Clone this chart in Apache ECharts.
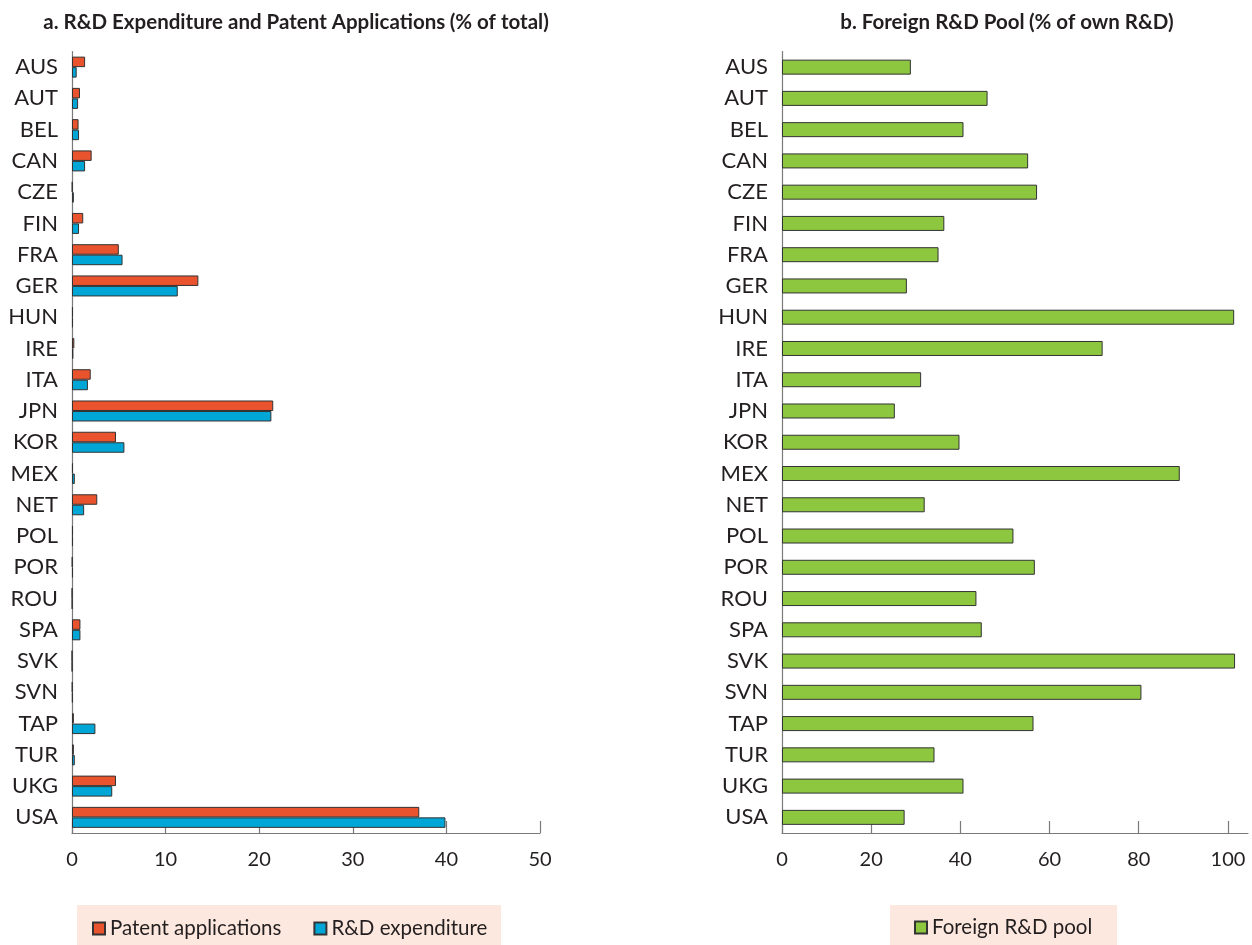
<!DOCTYPE html>
<html>
<head>
<meta charset="utf-8">
<script src="https://cdn.jsdelivr.net/npm/echarts@6/dist/echarts.min.js"></script>
<style>
html,body{margin:0;padding:0;background:#fff;}
#chart{width:1252px;height:945px;}
</style>
</head>
<body>
<div id="chart"></div>
<script>
const countries = ['AUS','AUT','BEL','CAN','CZE','FIN','FRA','GER','HUN','IRE','ITA','JPN','KOR','MEX','NET','POL','POR','ROU','SPA','SVK','SVN','TAP','TUR','UKG','USA'];
const patentApplications = [1.4,0.85,0.7,2.1,0.05,1.2,5.0,13.5,0.1,0.25,2.0,21.5,4.7,0.1,2.7,0.1,0.05,0.02,0.9,0.01,0.05,0.2,0.2,4.7,37.1];
const rdExpenditure = [0.5,0.65,0.75,1.4,0.2,0.75,5.4,11.3,0.1,0.15,1.7,21.3,5.6,0.3,1.3,0.1,0.1,0.03,0.9,0.02,0.08,2.5,0.3,4.3,39.9];
const foreignRDPool = [28.9,46.1,40.7,55.2,57.2,36.4,35.1,28.0,101.4,71.9,31.2,25.3,39.8,89.2,32.0,51.9,56.7,43.6,44.8,101.6,80.6,56.4,34.2,40.7,27.5];
const leftTicks = [0,10,20,30,40,50];
const rightTicks = [0,20,40,60,80,100];

const FONT = 'Lato';
const TXT = '#231F20';
const AX = '#7a7a7a';
const BORDER = '#333333';

const chart = echarts.init(document.getElementById('chart'));
chart.setOption({
  animation: false,
  textStyle: {fontFamily: FONT, color: TXT},
  title: [
    {
      text: '{b|a. R&D Expenditure and Patent Applications} {n|(% of total)}',
      left: 291, top: 7, textAlign: 'center',
      textStyle: {rich: {
        b: {fontFamily: FONT, fontWeight: 'bold', fontSize: 20.5, color: TXT},
        n: {fontFamily: FONT, fontSize: 20.5, color: TXT}
      }}
    },
    {
      text: '{b|b. Foreign R&D Pool} {n|(% of own R&D)}',
      left: 1002, top: 7, textAlign: 'center',
      textStyle: {rich: {
        b: {fontFamily: FONT, fontWeight: 'bold', fontSize: 20.5, color: TXT},
        n: {fontFamily: FONT, fontSize: 20.5, color: TXT}
      }}
    }
  ],
  graphic: [
    {type: 'rect', left: 77, top: 905, shape: {width: 424, height: 40}, style: {fill: '#FCE8DE'}, z: -1},
    {type: 'rect', left: 890, top: 905, shape: {width: 227, height: 40}, style: {fill: '#FCE8DE'}, z: -1}
  ],
  legend: [
    {
      data: ['Patent applications', 'R&D expenditure'],
      icon: 'rect',
      left: 92, top: 918, itemWidth: 12, itemHeight: 12, itemGap: 32, padding: 0,
      textStyle: {fontFamily: FONT, fontSize: 20.5, color: TXT}
    },
    {
      data: ['Foreign R&D pool'],
      icon: 'rect',
      left: 914, top: 917, itemWidth: 12, itemHeight: 12, padding: 0,
      textStyle: {fontFamily: FONT, fontSize: 20.5, color: TXT}
    }
  ],
  grid: [
    {left: 72, top: 51.5, width: 468, height: 781.5},
    {left: 782, top: 51.5, width: 466, height: 781.5}
  ],
  xAxis: [
    {
      gridIndex: 0, type: 'value', min: 0, max: 50, interval: 10,
      axisLine: {show: true, lineStyle: {color: AX, width: 1.2}},
      axisTick: {show: true, inside: true, length: 12, lineStyle: {color: AX, width: 1.2}},
      splitLine: {show: false},
      axisLabel: {fontSize: 20, color: TXT, margin: 17, customValues: leftTicks}
    },
    {
      gridIndex: 1, type: 'value', min: 0, max: 104.5, interval: 20,
      axisLine: {show: true, lineStyle: {color: AX, width: 1.2}},
      axisTick: {show: true, inside: true, length: 12, lineStyle: {color: AX, width: 1.2}, customValues: rightTicks},
      splitLine: {show: false},
      axisLabel: {fontSize: 20, color: TXT, margin: 17, customValues: rightTicks}
    }
  ],
  yAxis: [
    {
      gridIndex: 0, type: 'category', data: countries, inverse: true,
      axisLine: {show: true, lineStyle: {color: AX, width: 1.2}},
      axisTick: {show: false},
      axisLabel: {fontSize: 22, color: TXT, margin: 14}
    },
    {
      gridIndex: 1, type: 'category', data: countries, inverse: true,
      axisLine: {show: true, lineStyle: {color: AX, width: 1.2}},
      axisTick: {show: false},
      axisLabel: {fontSize: 22, color: TXT, margin: 14}
    }
  ],
  series: [
    {
      name: 'Patent applications', type: 'bar', xAxisIndex: 0, yAxisIndex: 0,
      data: patentApplications, barWidth: 10.5, barGap: '0%',
      itemStyle: {color: '#E9532E', borderColor: BORDER, borderWidth: 1}
    },
    {
      name: 'R&D expenditure', type: 'bar', xAxisIndex: 0, yAxisIndex: 0,
      data: rdExpenditure, barWidth: 10.5, barGap: '0%',
      itemStyle: {color: '#00A6D6', borderColor: BORDER, borderWidth: 1}
    },
    {
      name: 'Foreign R&D pool', type: 'bar', xAxisIndex: 1, yAxisIndex: 1,
      data: foreignRDPool, barWidth: 15,
      itemStyle: {color: '#8DC63F', borderColor: BORDER, borderWidth: 1}
    }
  ]
});
</script>
</body>
</html>
